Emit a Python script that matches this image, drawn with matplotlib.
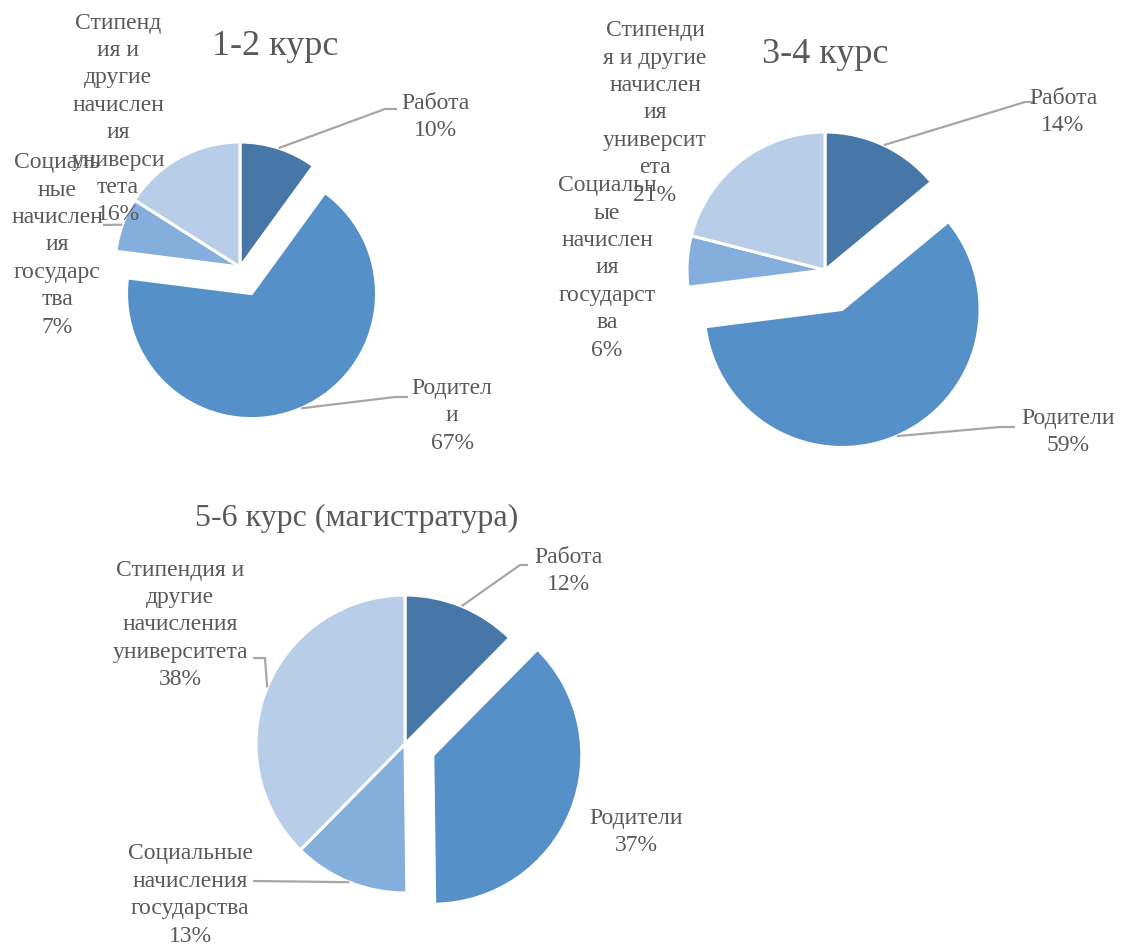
import matplotlib
matplotlib.use('Agg')
import matplotlib.pyplot as plt
import numpy as np

# ---------------- data ----------------
categories = ['Работа', 'Родители', 'Социальные начисления государства',
              'Стипендия и другие начисления университета']
titles = ['1-2 курс', '3-4 курс', '5-6 курс (магистратура)']
# shares in % (labels show them rounded)
shares_12 = [10, 67, 7, 16]
shares_34 = [14, 59, 6, 21]
shares_56 = [12.4, 37.4, 12.6, 37.6]

# category names as wrapped in each chart of the reference
wrapped_12 = ['Работа', 'Родител\nи', 'Социаль\nные\nначислен\nия\nгосударс\nтва',
              'Стипенд\nия и\nдругие\nначислен\nия\nуниверси\nтета']
wrapped_34 = ['Работа', 'Родители', 'Социальн\nые\nначислен\nия\nгосударст\nва',
              'Стипенди\nя и другие\nначислен\nия\nуниверсит\nета']
wrapped_56 = ['Работа', 'Родители', 'Социальные\nначисления\nгосударства',
              'Стипендия и\nдругие\nначисления\nуниверситета']

# ---------------- styling / layout ----------------
colors = ['#4677A7', '#5591C8', '#84AEDB', '#B8CDE8']
text_color = '#595959'
leader_color = '#A6A6A6'
FONT = ['Liberation Serif', 'DejaVu Serif']
W, H = 1122, 945

charts = [
    dict(values=shares_12, names=wrapped_12, title=titles[0], title_size=26,
         center=(240, 268), radius=125, explode=29, title_pos=(275, 47),
         label_pos=[(435, 117), (452, 416), (57, 245), (118, 119)],
         leaders=[[(385, 110), (397, 110)], [(395, 398), (408, 398)],
                  [(103, 226)], None]),
    dict(values=shares_34, names=wrapped_34, title=titles[1], title_size=26,
         center=(825, 271), radius=138, explode=43, title_pos=(825, 55),
         label_pos=[(1063, 112), (1068, 432), (607, 268), (655, 113)],
         leaders=[[(1025, 103), (1035, 103)], [(1000, 428), (1015, 428)],
                  None, None]),
    dict(values=shares_56, names=wrapped_56, title=titles[2], title_size=23,
         center=(405, 745), radius=149, explode=30, title_pos=(357, 518),
         label_pos=[(568, 571), (636, 832), (190, 895), (180, 625)],
         leaders=[[(520, 566), (528, 566)], None,
                  [(253, 882)], [(265, 659), (253, 659)]]),
]

fig = plt.figure(figsize=(W / 100, H / 100), dpi=100)
fig.patch.set_facecolor('white')
ax = fig.add_axes([0, 0, 1, 1])


def Y(y):
    return H - y


for ch in charts:
    vals = ch['values']
    cx, cy = ch['center']
    r = ch['radius']
    explode = [0, ch['explode'], 0, 0]
    wedges, _ = ax.pie(vals, explode=explode, colors=colors, startangle=90,
                       counterclock=False, radius=r, center=(cx, Y(cy)),
                       frame=True,
                       wedgeprops=dict(edgecolor='white', linewidth=2.2))
    # title
    ax.text(ch['title_pos'][0], Y(ch['title_pos'][1]), ch['title'],
            ha='center', va='center', fontsize=ch['title_size'],
            color=text_color, family=FONT)
    # labels and leader lines
    for i, w in enumerate(wedges):
        lbl = f"{ch['names'][i]}\n{vals[i]:.0f}%"
        lx, ly = ch['label_pos'][i]
        ax.text(lx, Y(ly), lbl, ha='center', va='center', fontsize=17,
                color=text_color, family=FONT, linespacing=1.4, zorder=5)
        path = ch['leaders'][i]
        if path:
            mid = np.deg2rad((w.theta1 + w.theta2) / 2)
            wx, wy = w.center
            sx = wx + w.r * np.cos(mid)
            sy = wy + w.r * np.sin(mid)
            xs = [sx] + [p[0] for p in path]
            ys = [sy] + [Y(p[1]) for p in path]
            ax.plot(xs, ys, color=leader_color, lw=1.6, zorder=4,
                    solid_capstyle='butt')

ax.set_xlim(0, W)
ax.set_ylim(0, H)
ax.set_aspect('equal', adjustable='box')
ax.axis('off')

fig.savefig('out.png', dpi=100, facecolor='white')
